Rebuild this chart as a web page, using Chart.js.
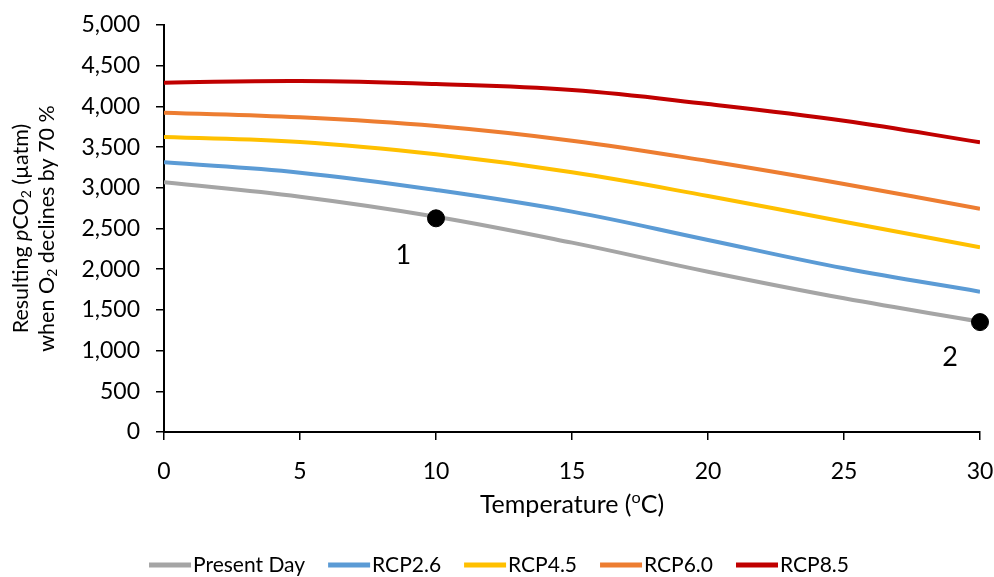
<!DOCTYPE html>
<html>
<head>
<meta charset="utf-8">
<script src="https://cdn.jsdelivr.net/npm/chart.js@4"></script>
<style>
html, body { margin: 0; padding: 0; background: #fff; }
#wrap { width: 994px; height: 577px; }
</style>
</head>
<body>
<div id="wrap"><canvas id="chart"></canvas></div>
<script>
// values, temperature in degC
const temps = [0, 5, 10, 15, 20, 25, 30];
const presentDay = [3068, 2891, 2645, 2326, 1969, 1642, 1355];
const rcp26 = [3313, 3186, 2973, 2707, 2359, 2011, 1724];
const rcp45 = [3624, 3563, 3411, 3190, 2899, 2583, 2269];
const rcp60 = [3923, 3866, 3759, 3579, 3329, 3047, 2743];
const rcp85 = [4291, 4312, 4275, 4201, 4029, 3824, 3559];

const seriesNames = ['Present Day', 'RCP2.6', 'RCP4.5', 'RCP6.0', 'RCP8.5'];
const seriesColors = ['#A5A5A5', '#5B9BD5', '#FFC000', '#ED7D31', '#C00000'];

// the two black markers and their numbers
const markerX = [10, 30];
const markerY = [2625, 1350];
const markerText = ['1', '2'];
const markerTextX = [8.8, 28.9];
const markerTextY = [2170, 920];

const yTicks = [0, 500, 1000, 1500, 2000, 2500, 3000, 3500, 4000, 4500, 5000];

const FONT = 'Lato, "Open Sans", sans-serif';

const toPoints = (ys) => temps.map((t, i) => ({ x: t, y: ys[i] }));
const allSeries = [presentDay, rcp26, rcp45, rcp60, rcp85];

const datasets = allSeries.map((ys, i) => ({
  label: seriesNames[i],
  data: toPoints(ys),
  borderColor: seriesColors[i],
  backgroundColor: seriesColors[i],
  borderWidth: 4,
  pointRadius: 0,
  tension: 0.4,
  order: 1
}));
datasets.push({
  label: 'markers',
  data: markerX.map((x, i) => ({ x: x, y: markerY[i] })),
  showLine: false,
  pointRadius: 8.5,
  pointBackgroundColor: '#000',
  pointBorderColor: '#000',
  clip: false,
  order: 0
});

// draws text made of pieces (italic / subscript / superscript)
function drawPieces(ctx, pieces, size) {
  let total = 0;
  pieces.forEach(p => {
    const s = p.small ? size * 0.65 : size;
    ctx.font = (p.italic ? 'italic ' : '') + s + 'px ' + FONT;
    p.w = ctx.measureText(p.t).width;
    total += p.w;
  });
  let x = -total / 2;
  pieces.forEach(p => {
    const s = p.small ? size * 0.65 : size;
    ctx.font = (p.italic ? 'italic ' : '') + s + 'px ' + FONT;
    ctx.fillText(p.t, x, p.dy || 0);
    x += p.w;
  });
}

const extrasPlugin = {
  id: 'extras',
  afterDraw(chart) {
    const ctx = chart.ctx;
    const xs = chart.scales.x, ys = chart.scales.y;
    const area = chart.chartArea;
    ctx.save();
    ctx.fillStyle = '#000';
    ctx.textAlign = 'left';
    ctx.textBaseline = 'middle';

    // marker numbers
    ctx.font = '27px ' + FONT;
    markerText.forEach((t, i) => {
      const px = xs.getPixelForValue(markerTextX[i]);
      const py = ys.getPixelForValue(markerTextY[i]);
      const w = ctx.measureText(t).width;
      ctx.fillText(t, px - w / 2, py);
    });

    // x axis title
    ctx.save();
    ctx.translate((area.left + area.right) / 2, 505);
    drawPieces(ctx, [
      { t: 'Temperature (' },
      { t: 'o', small: true, dy: -7 },
      { t: 'C)' }
    ], 25);
    ctx.restore();

    // y axis title, two lines
    const cy = (area.top + area.bottom) / 2;
    ctx.save();
    ctx.translate(21, cy);
    ctx.rotate(-Math.PI / 2);
    drawPieces(ctx, [
      { t: 'Resulting ' },
      { t: 'p', italic: true },
      { t: 'CO' },
      { t: '2', small: true, dy: 5 },
      { t: ' (µatm)' }
    ], 21.5);
    ctx.restore();
    ctx.save();
    ctx.translate(47, cy);
    ctx.rotate(-Math.PI / 2);
    drawPieces(ctx, [
      { t: 'when O' },
      { t: '2', small: true, dy: 5 },
      { t: ' declines by 70 %' }
    ], 21.5);
    ctx.restore();

    // legend: line swatch right before each label, centred under the canvas
    const legendSize = 21, swatchW = 42, swatchGap = 2, itemGap = 23;
    ctx.font = legendSize + 'px ' + FONT;
    const items = chart.data.datasets.filter(d => d.label !== 'markers');
    const widths = items.map(d => swatchW + swatchGap + ctx.measureText(d.label).width);
    const totalW = widths.reduce((a, b) => a + b, 0) + itemGap * (items.length - 1);
    let lx = (chart.width - totalW) / 2 + 2;
    const ly = 565;
    items.forEach((d, i) => {
      ctx.fillStyle = d.borderColor;
      ctx.fillRect(lx, ly - 2.5, swatchW, 5);
      ctx.fillStyle = '#000';
      ctx.fillText(d.label, lx + swatchW + swatchGap, ly);
      lx += widths[i] + itemGap;
    });

    ctx.restore();
  }
};

new Chart(document.getElementById('chart'), {
  type: 'line',
  data: { datasets: datasets },
  plugins: [extrasPlugin],
  options: {
    responsive: true,
    maintainAspectRatio: false,
    animation: false,
    layout: { padding: { left: 8, right: 0, top: 25, bottom: 0 } },
    scales: {
      x: {
        type: 'linear',
        min: 0,
        max: 30,
        ticks: { stepSize: 5, color: '#000', font: { family: FONT, size: 23 }, padding: 18, maxRotation: 0 },
        grid: { drawOnChartArea: false, tickLength: 8, color: '#000', lineWidth: 1.5 },
        border: { color: '#000', width: 2 },
        afterFit(s) { s.height = 145; s.paddingRight = 14; s.paddingLeft = 0; }
      },
      y: {
        min: 0,
        max: 5000,
        afterBuildTicks(s) { s.ticks = yTicks.map(v => ({ value: v })); },
        ticks: {
          color: '#000',
          font: { family: FONT, size: 23 },
          padding: 16,
          callback: v => v.toLocaleString('en-US')
        },
        grid: { drawOnChartArea: false, tickLength: 8, color: '#000', lineWidth: 1.5 },
        border: { color: '#000', width: 2 },
        afterFit(s) { s.width = 156; s.paddingTop = 10; s.paddingBottom = 10; }
      }
    },
    plugins: {
      tooltip: { enabled: false },
      legend: { display: false }
    }
  }
});
</script>
</body>
</html>
